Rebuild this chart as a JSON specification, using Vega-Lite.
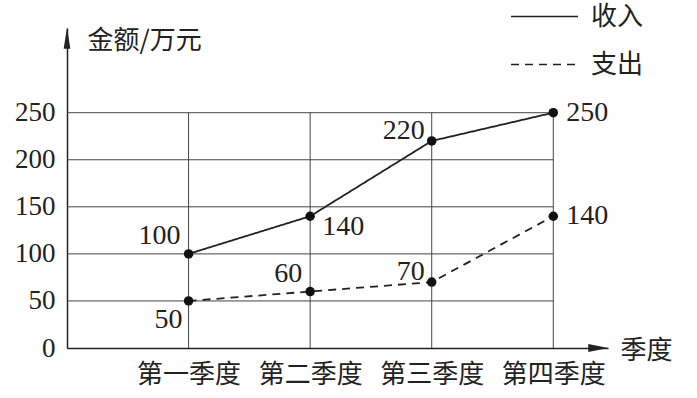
{
  "$schema": "https://vega.github.io/schema/vega-lite/v6.json",
  "width": 541,
  "height": 320,
  "autosize": "none",
  "padding": {"left": 67, "top": 28, "right": 89, "bottom": 50},
  "background": "white",
  "config": {
    "view": {"stroke": null},
    "text": {"font": "Liberation Serif", "fontSize": 28, "fill": "#222"}
  },
  "datasets": {
    "main": [
      {"q": 1, "s": "收入", "v": 100},
      {"q": 2, "s": "收入", "v": 140},
      {"q": 3, "s": "收入", "v": 220},
      {"q": 4, "s": "收入", "v": 250},
      {"q": 1, "s": "支出", "v": 50},
      {"q": 2, "s": "支出", "v": 60},
      {"q": 3, "s": "支出", "v": 70},
      {"q": 4, "s": "支出", "v": 140}
    ],
    "hgrid": [{"v": 50}, {"v": 100}, {"v": 150}, {"v": 200}, {"v": 250}],
    "vgrid": [{"q": 1}, {"q": 2}, {"q": 3}, {"q": 4}],
    "arrows": [{"a": "y", "q": 0, "v": 329}, {"a": "x", "q": 4.37, "v": 0}]
  },
  "layer": [
    {
      "data": {"name": "hgrid"},
      "mark": {"type": "rule", "stroke": "#444", "strokeWidth": 1},
      "encoding": {
        "x": {"datum": 0, "type": "quantitative", "scale": {"domain": [0, 4.45], "nice": false, "zero": false}},
        "x2": {"datum": 4},
        "y": {
          "field": "v",
          "type": "quantitative",
          "scale": {"domain": [0, 340], "nice": false},
          "axis": {
            "values": [0, 50, 100, 150, 200, 250],
            "ticks": false,
            "grid": false,
            "domainColor": "#222",
            "domainWidth": 1.5,
            "labelFont": "Liberation Serif",
            "labelFontSize": 27,
            "labelColor": "#222",
            "labelPadding": 12,
            "title": "金额/万元",
            "titleFont": "Noto Sans CJK SC",
            "titleFontSize": 26,
            "titleFontWeight": "normal",
            "titleColor": "#222",
            "titleAngle": 0,
            "titleX": 20,
            "titleY": 12,
            "titleAlign": "left",
            "titleBaseline": "middle"
          }
        }
      }
    },
    {
      "data": {"name": "vgrid"},
      "mark": {"type": "rule", "stroke": "#444", "strokeWidth": 1},
      "encoding": {
        "x": {
          "field": "q",
          "type": "quantitative",
          "scale": {"domain": [0, 4.45], "nice": false, "zero": false},
          "axis": {
            "values": [1, 2, 3, 4],
            "labelExpr": "['','第一季度','第二季度','第三季度','第四季度'][datum.value]",
            "ticks": false,
            "grid": false,
            "domainColor": "#222",
            "domainWidth": 1.5,
            "labelFont": "Noto Sans CJK SC",
            "labelFontSize": 26,
            "labelColor": "#222",
            "labelPadding": 13,
            "labelBaseline": "top",
            "labelFlush": false,
            "labelOverlap": false,
            "title": "季度",
            "titleFont": "Noto Sans CJK SC",
            "titleFontSize": 26,
            "titleFontWeight": "normal",
            "titleColor": "#222",
            "titleX": 553,
            "titleY": 2,
            "titleAlign": "left",
            "titleBaseline": "middle"
          }
        },
        "y": {"datum": 0, "type": "quantitative", "scale": {"domain": [0, 340], "nice": false}},
        "y2": {"datum": 250}
      }
    },
    {
      "data": {"name": "main"},
      "encoding": {
        "x": {"field": "q", "type": "quantitative", "scale": {"domain": [0, 4.45], "nice": false, "zero": false}},
        "y": {"field": "v", "type": "quantitative", "scale": {"domain": [0, 340], "nice": false}}
      },
      "layer": [
        {
          "mark": {"type": "line", "stroke": "#222", "strokeWidth": 1.8},
          "encoding": {
            "strokeDash": {
              "field": "s",
              "type": "nominal",
              "scale": {"domain": ["收入", "支出"], "range": [[1, 0], [8, 6]]},
              "legend": {
                "orient": "none",
                "legendX": 443,
                "legendY": -46,
                "title": null,
                "symbolType": "stroke",
                "symbolSize": 4489,
                "symbolStrokeWidth": 1.5,
                "symbolStrokeColor": "#222",
                "labelFont": "Noto Sans CJK SC",
                "labelFontSize": 26,
                "labelColor": "#222",
                "labelOffset": 12,
                "rowPadding": -18
              }
            }
          }
        },
        {
          "mark": {"type": "point", "filled": true, "size": 90, "color": "#111", "opacity": 1}
        },
        {
          "transform": [{"filter": "(datum.s=='收入' && datum.q==1) || (datum.s=='支出' && datum.q==2)"}],
          "mark": {"type": "text", "align": "right", "baseline": "alphabetic", "dx": -8, "dy": -10},
          "encoding": {"text": {"field": "v", "type": "quantitative"}}
        },
        {
          "transform": [{"filter": "datum.q==3"}],
          "mark": {"type": "text", "align": "right", "baseline": "alphabetic", "dx": -7, "dy": -2},
          "encoding": {"text": {"field": "v", "type": "quantitative"}}
        },
        {
          "transform": [{"filter": "datum.q==4"}],
          "mark": {"type": "text", "align": "left", "baseline": "alphabetic", "dx": 13, "dy": 8},
          "encoding": {"text": {"field": "v", "type": "quantitative"}}
        },
        {
          "transform": [{"filter": "datum.s=='收入' && datum.q==2"}],
          "mark": {"type": "text", "align": "left", "baseline": "alphabetic", "dx": 12, "dy": 19},
          "encoding": {"text": {"field": "v", "type": "quantitative"}}
        },
        {
          "transform": [{"filter": "datum.s=='支出' && datum.q==1"}],
          "mark": {"type": "text", "align": "right", "baseline": "alphabetic", "dx": -6, "dy": 27},
          "encoding": {"text": {"field": "v", "type": "quantitative"}}
        }
      ]
    },
    {
      "data": {"name": "arrows"},
      "transform": [{"filter": "datum.a=='y'"}],
      "mark": {"type": "point", "filled": true, "size": 440, "color": "#222", "opacity": 1, "shape": "M0,-1L-0.32,1L0.32,1Z"},
      "encoding": {
        "x": {"field": "q", "type": "quantitative", "scale": {"domain": [0, 4.45], "nice": false, "zero": false}},
        "y": {"field": "v", "type": "quantitative", "scale": {"domain": [0, 340], "nice": false}}
      }
    },
    {
      "data": {"name": "arrows"},
      "transform": [{"filter": "datum.a=='x'"}],
      "mark": {"type": "point", "filled": true, "size": 400, "color": "#222", "opacity": 1, "shape": "M1,0L-1,-0.4L-1,0.4Z"},
      "encoding": {
        "x": {"field": "q", "type": "quantitative", "scale": {"domain": [0, 4.45], "nice": false, "zero": false}},
        "y": {"field": "v", "type": "quantitative", "scale": {"domain": [0, 340], "nice": false}}
      }
    }
  ]
}
